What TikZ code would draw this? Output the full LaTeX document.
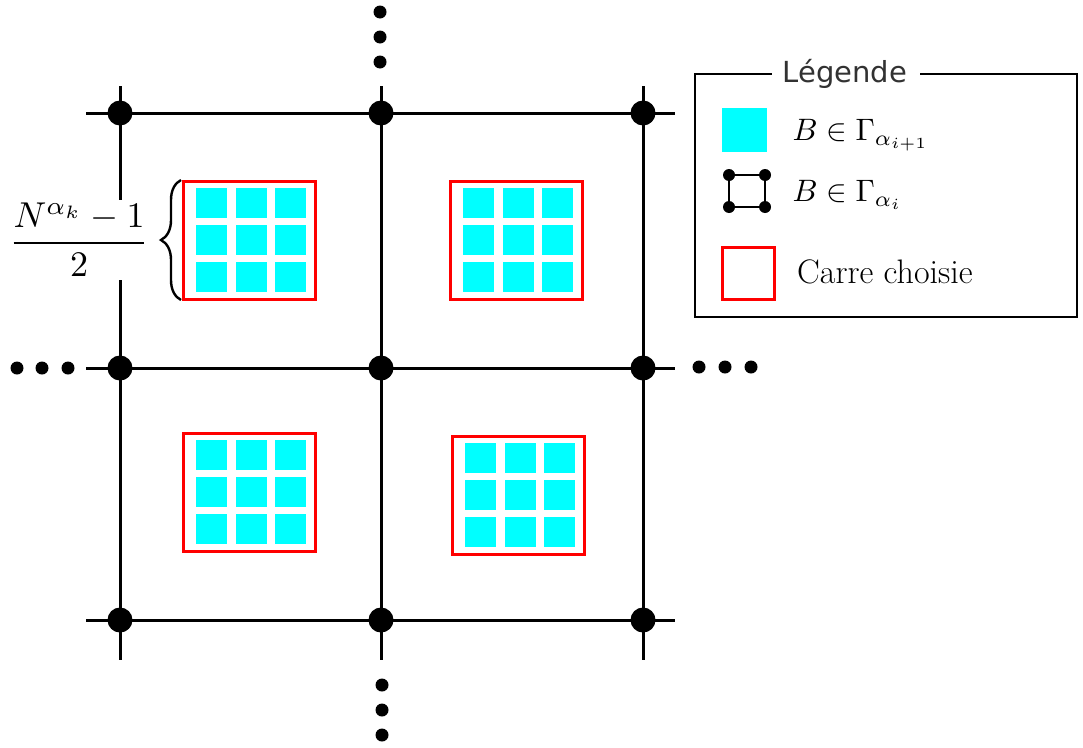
\documentclass[tikz,border=0pt]{standalone}
\usepackage{amsmath}
\usepackage{fontspec}
\newfontfamily\legendfont{DejaVu Sans}
\usetikzlibrary{decorations.pathreplacing}
\definecolor{boxcyan}{RGB}{0,255,255}
\definecolor{titlegray}{RGB}{50,50,50}
\tikzset{
  gridline/.style={line width=3pt, black},
  bigdot/.style={circle, fill=black, inner sep=0pt, minimum size=25pt},
  smalldot/.style={circle, fill=black, inner sep=0pt, minimum size=13pt},
  icondot/.style={circle, fill=black, inner sep=0pt, minimum size=12pt},
  chosen/.style={draw=red, line width=3pt},
  cell/.style={fill=boxcyan},
  bigtext/.style={font=\fontsize{34}{40}\selectfont, inner sep=0pt},
  mathtext/.style={font=\fontsize{10}{12}\selectfont, scale=3.1, inner sep=0pt},
  block/.pic={
    \foreach \i in {0,1,2}
      \foreach \j in {0,1,2}
        \fill[cell] ({13+39.5*\i},{7+37*\j}) rectangle ++(31,30);
    \draw[chosen] (0,0) rectangle (132,118);
  }
}
\begin{document}
\begin{tikzpicture}[x=1pt, y=-1pt]
\useasboundingbox (0,0) rectangle (1083,747);

% grid lines
\foreach \yy in {113,368,620}
  \draw[gridline] (86,\yy) -- (675,\yy);
\foreach \xx in {120,381,643}
  \draw[gridline] (\xx,86) -- (\xx,660);

% grid vertices
\foreach \xx/\c in {120/a,381/b,643/c}
  \foreach \yy/\r in {113/1,368/2,620/3}
    \node[bigdot] (v\c\r) at (\xx,\yy) {};

% ellipses continuing the grid
\foreach \yy [count=\k] in {12,37,62}
  \node[smalldot] (top\k) at (380,\yy) {};
\foreach \yy [count=\k] in {685,710,735}
  \node[smalldot] (bot\k) at (382,\yy) {};
\foreach \xx [count=\k] in {17,42,68}
  \node[smalldot] (left\k) at (\xx,368) {};
\foreach \xx [count=\k] in {699,725,751}
  \node[smalldot] (right\k) at (\xx,367) {};

% chosen squares with their sub-blocks
\pic at (183,181) {block};
\pic at (450,181) {block};
\pic at (183,433) {block};
\pic at (452,436) {block};

% size label, on white so it masks the grid line behind it
\node[mathtext, scale=1.16, fill=white, inner sep=1pt] (frac) at (79,240) {$\dfrac{N^{\alpha_k}-1}{2}$};
\draw[line width=2.4pt, decorate, decoration={brace, amplitude=20pt, aspect=0.5}]
  (181,300) -- (181,180);

% legend
\draw[line width=2.5pt] (920,74) -- (1077,74) -- (1077,317) -- (695,317) -- (695,74) -- (772,74);
\node[font=\legendfont\fontsize{29}{34}\selectfont, text=titlegray, inner sep=0pt] (title) at (845,74) {Légende};

\fill[cell] (722,108) rectangle (767,152);
\node[mathtext, anchor=west] (leg1) at (792,135) {$B\in\Gamma_{\alpha_{i+1}}$};

\draw[line width=2pt] (729,175) rectangle (765,207);
\foreach \xx/\yy [count=\k] in {729/175,765/175,729/207,765/207}
  \node[icondot] (ic\k) at (\xx,\yy) {};
\node[mathtext, anchor=west] (leg2) at (792,195) {$B\in\Gamma_{\alpha_i}$};

\draw[chosen] (722,247) rectangle (774,299);
\node[bigtext, anchor=west] (leg3) at (797,272) {Carre choisie};
\end{tikzpicture}
\end{document}
